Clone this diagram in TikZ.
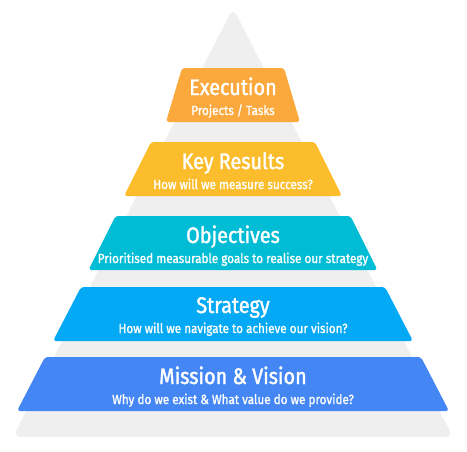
\documentclass[tikz,border=0pt]{standalone}
\usepackage{fontspec}
\setmainfont{Fira Sans}[FakeStretch=0.88]
\newfontfamily\medfont{Fira Sans}[FakeStretch=0.88, FakeBold=1.3]
\newfontfamily\ttlfont{Fira Sans}[FakeStretch=0.88, FakeBold=1.6]
\definecolor{tri}{HTML}{EFEFEF}
\definecolor{cexec}{HTML}{FBA83D}
\definecolor{ckr}{HTML}{FBBD2C}
\definecolor{cobj}{HTML}{00BCD4}
\definecolor{cstr}{HTML}{03A9F4}
\definecolor{cmis}{HTML}{4487F4}
\tikzset{
  ttl/.style={anchor=base, text=white, inner sep=0pt, font=\ttlfont\fontsize{22.5}{22.5}\selectfont},
  sub/.style={anchor=base, text=white, inner sep=0pt, font=\medfont\fontsize{13.3}{13.3}\selectfont},
}
% band: top y, bottom y, half width top, half width bottom, colour
\newcommand\myband[5]{%
  \fill[#5, rounded corners=3pt] (233-#3,-#1) -- (233+#3,-#1) -- (233+#4,-#2) -- (233-#4,-#2) -- cycle;}
\begin{document}
\begin{tikzpicture}[x=1pt,y=1pt]
\useasboundingbox (0,0) rectangle (467,-451);
\fill[tri, rounded corners=8pt] (233,-8) -- (453,-437) -- (13,-437) -- cycle;
\myband{68}{122}{51}{67}{cexec}
\myband{142}{196}{82}{109}{ckr}
\myband{216}{270}{117.5}{144.5}{cobj}
\myband{287}{341}{152}{180}{cstr}
\myband{357}{411}{188}{216}{cmis}
\node[ttl] (t1) at (233,-95) {Execution};
\node[sub] (s1) at (233,-115) {Projects / Tasks};
\node[ttl] (t2) at (233,-169) {Key Results};
\node[sub] (s2) at (233,-189) {How will we measure success?};
\node[ttl] (t3) at (233,-243) {Objectives};
\node[sub] (s3) at (233,-263) {Prioritised measurable goals to realise our strategy};
\node[ttl] (t4) at (233,-313) {Strategy};
\node[sub] (s4) at (233,-333) {How will we navigate to achieve our vision?};
\node[ttl] (t5) at (233,-384) {Mission \& Vision};
\node[sub] (s5) at (233,-404) {Why do we exist \& What value do we provide?};
\end{tikzpicture}
\end{document}
